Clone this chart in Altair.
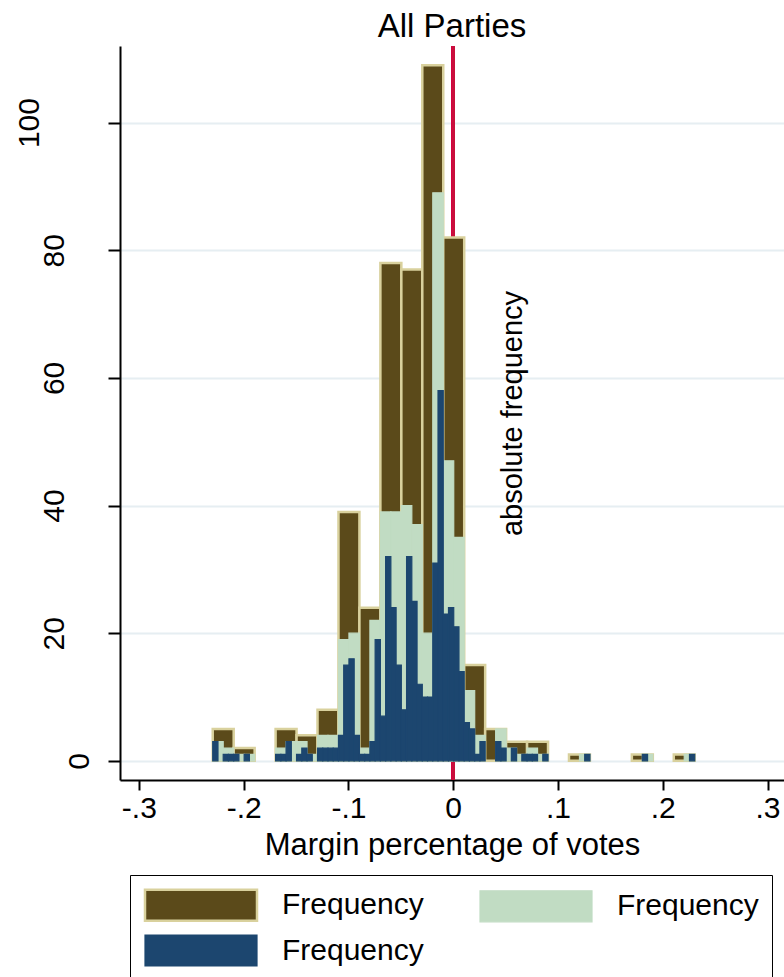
import altair as alt
import pandas as pd

FONT = "Liberation Sans"

chart_title = "All Parties"
x_axis_title = "Margin percentage of votes"
y_axis_title = "absolute frequency"
legend_text = "Frequency"

# All three histograms start at the smallest observed margin
bin_start = -0.2295

series_names = ["Frequency, width .02", "Frequency, width .01", "Frequency, width .005"]
bin_widths = [0.02, 0.01, 0.005]

counts_wide = [5, 2, 0, 5, 4, 8, 39, 24, 78, 77, 109, 82, 15, 5, 3, 3, 0, 1, 0, 0, 1, 0, 1]

counts_mid = [3, 2, 1, 1, 0, 0, 2, 3, 3, 1, 4, 4, 19, 20, 2, 22, 39, 39, 40, 37,
              20, 89, 47, 35, 11, 4, 0, 5, 2, 1, 2, 1, 0, 0, 0, 1, 0, 0, 0, 0,
              0, 1, 0, 0, 0, 1]

counts_narrow = [3, 0, 1, 1, 1, 0, 1, 0, 0, 0,
                 0, 0, 1, 1, 3, 0, 1, 2, 1, 0,
                 2, 2, 2, 2, 4, 15, 16, 4, 1, 1,
                 3, 19, 7, 32, 24, 15, 8, 32, 25, 12,
                 10, 10, 31, 58, 23, 24, 21, 14, 6, 5,
                 1, 3, 0, 0, 3, 2, 0, 2, 0, 1,
                 1, 1, 0, 1, 0, 0, 0, 0, 0, 0,
                 0, 1, 0, 0, 0, 0, 0, 0, 0, 0,
                 0, 0, 1, 0, 0, 0, 0, 0, 0, 0,
                 0, 1]

fill_colors = ["#5b4a1a", "#c1dcc3", "#1c466f"]
outline_colors = ["#d9d19d", "#c1dcc3", "#1c466f"]
outline_widths = [2.5, 1.2, 1.2]

x_tick_values = [-0.3, -0.2, -0.1, 0.0, 0.1, 0.2, 0.3]
x_tick_labels = ["-.3", "-.2", "-.1", "0", ".1", ".2", ".3"]
y_tick_values = [0, 20, 40, 60, 80, 100]
reference_margin = 0.0

# one row per non-empty bin, widest bins first so the narrow ones sit on top
rows = []
for name, width, counts in zip(series_names, bin_widths,
                               [counts_wide, counts_mid, counts_narrow]):
    for i, c in enumerate(counts):
        if c > 0:
            lo = bin_start + i * width
            rows.append({"series": name, "lo": lo, "hi": lo + width, "count": c})
bins = pd.DataFrame(rows)

x_label_expr = " : ".join(
    f"abs(datum.value - ({v})) < 1e-9 ? '{t}'" for v, t in zip(x_tick_values, x_tick_labels)
) + " : ''"

x_scale = alt.Scale(domain=[-0.318, 0.3157], nice=False, zero=False)
y_scale = alt.Scale(domain=[-3, 112], nice=False, zero=False)

x_axis = alt.Axis(
    values=x_tick_values, labelExpr=x_label_expr, title=x_axis_title,
    labelFontSize=30, labelColor="black", labelPadding=3, labelFont=FONT,
    titleFontSize=31, titleFontWeight="normal", titleColor="black", titleFont=FONT,
    titlePadding=7,
    tickSize=10, tickWidth=2, tickColor="black",
    domainColor="black", domainWidth=2, grid=False,
)

# vertical tick labels sit further out the more digits they have
y_axis = alt.Axis(
    values=y_tick_values, title=y_axis_title,
    titleAngle=270, titleX=392, titleY=367, titleAlign="center", titleBaseline="middle",
    titleFontSize=29, titleFontWeight="normal", titleColor="black", titleFont=FONT,
    labelAngle=270, labelAlign="center", labelBaseline="middle",
    labelFontSize=30, labelColor="black", labelFont=FONT,
    labelPadding=alt.ExprRef("4 + 25 * length(datum.label)"),
    tickSize=12, tickWidth=2, tickColor="black",
    domainColor="black", domainWidth=2,
    grid=True, gridColor="#e6eef2", gridWidth=2,
)

legend = alt.Legend(
    title=None, orient="none", legendX=10, legendY=829, columns=2, direction="horizontal",
    symbolType="M-3.613,-1H3.613V1H-3.613Z", symbolSize=961, symbolOpacity=1,
    symbolOffset=41,
    labelExpr=f"'{legend_text}'", labelFontSize=30, labelFont=FONT, labelColor="black",
    labelOffset=64, labelLimit=400, columnPadding=53, rowPadding=6, padding=13,
    strokeColor="black", fillColor="white",
)

bars = alt.Chart(bins).mark_rect().encode(
    x=alt.X("lo:Q", scale=x_scale, axis=x_axis),
    x2="hi:Q",
    y=alt.Y("count:Q", scale=y_scale, axis=y_axis),
    y2=alt.datum(0),
    fill=alt.Fill("series:N", scale=alt.Scale(domain=series_names, range=fill_colors), legend=legend),
    stroke=alt.Stroke("series:N", scale=alt.Scale(domain=series_names, range=outline_colors), legend=legend),
    strokeWidth=alt.StrokeWidth("series:N", scale=alt.Scale(type="ordinal", domain=series_names, range=outline_widths), legend=legend),
)

zero_line = alt.Chart(bins).mark_rule(color="#c8103c", strokeWidth=2.5).encode(
    x=alt.datum(reference_margin)
)

chart = alt.layer(zero_line, bars).properties(
    width=664,
    height=734,
    padding={"left": 120, "top": 46, "right": 0, "bottom": 197},
    autosize=alt.AutoSizeParams(type="none"),
    title=alt.TitleParams(
        chart_title, fontSize=33, fontWeight="normal", anchor="middle", frame="group",
        offset=8, dy=33, baseline="alphabetic", color="black", font=FONT,
    ),
).configure(font=FONT).configure_view(stroke="transparent")

chart.save("out.html", embed_options={"renderer": "svg", "actions": False})
